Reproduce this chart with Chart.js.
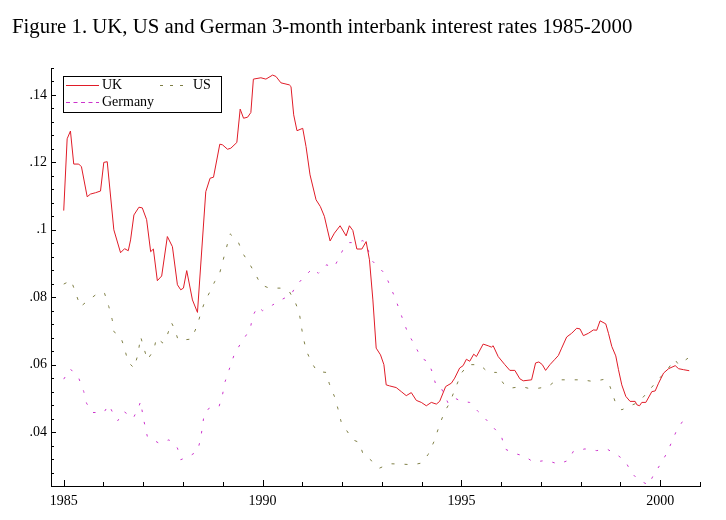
<!DOCTYPE html>
<html>
<head>
<meta charset="utf-8">
<script src="https://cdn.jsdelivr.net/npm/chart.js@4/dist/chart.umd.min.js"></script>
<style>
html,body{margin:0;padding:0;background:#fff;}
#wrap{position:relative;width:726px;height:520px;}
</style>
</head>
<body>
<div id="wrap"><canvas id="c" width="726" height="520"></canvas></div>
<script>
const titleText = "Figure 1. UK, US and German 3-month interbank interest rates 1985-2000";
const seriesNames = ["UK", "US", "Germany"];

const ukYears = [1985.000,1985.086,1985.169,1985.252,1985.378,1985.446,1985.590,1985.673,1985.799,1985.925,
1986.008,1986.094,1986.260,1986.429,1986.530,1986.623,1986.681,1986.765,1986.891,1986.976,
1987.085,1987.186,1987.254,1987.354,1987.463,1987.606,1987.733,1987.859,1987.942,1988.010,
1988.093,1988.237,1988.363,1988.572,1988.680,1988.766,1988.925,1988.993,1989.119,1989.202,
1989.353,1989.437,1989.522,1989.623,1989.706,1989.769,1989.958,1990.084,1990.253,1990.336,
1990.462,1990.672,1990.715,1990.783,1990.866,1991.010,1991.093,1991.194,1991.345,1991.453,
1991.554,1991.622,1991.698,1991.806,1991.950,1992.101,1992.184,1992.270,1992.371,1992.497,
1992.605,1992.688,1992.774,1992.857,1992.966,1993.051,1993.109,1993.193,1993.361,1993.488,
1993.614,1993.740,1993.866,1993.992,1994.118,1994.244,1994.370,1994.453,1994.604,1994.748,
1994.831,1994.956,1995.043,1995.126,1995.209,1995.310,1995.378,1995.547,1995.673,1995.756,
1995.799,1995.925,1996.092,1996.218,1996.344,1996.470,1996.556,1996.765,1996.865,1996.949,
1997.035,1997.118,1997.227,1997.352,1997.438,1997.521,1997.647,1997.773,1997.899,1997.982,
1998.068,1998.194,1998.320,1998.403,1998.487,1998.630,1998.698,1998.782,1998.882,1998.950,
1999.033,1999.134,1999.242,1999.369,1999.412,1999.479,1999.537,1999.638,1999.789,1999.873,
1999.958,2000.084,2000.210,2000.377,2000.462,2000.588,2000.730];
const ukRates = [0.1057,0.1270,0.1293,0.1195,0.1195,0.1187,0.1098,0.1106,0.1110,0.1115,
0.1200,0.1202,0.1000,0.0932,0.0944,0.0938,0.0970,0.1044,0.1067,0.1065,
0.1030,0.0935,0.0943,0.0849,0.0863,0.0980,0.0950,0.0837,0.0822,0.0827,
0.0879,0.0792,0.0755,0.1113,0.1153,0.1156,0.1254,0.1252,0.1239,0.1242,
0.1259,0.1358,0.1331,0.1334,0.1348,0.1447,0.1451,0.1447,0.1459,0.1455,
0.1436,0.1430,0.1425,0.1341,0.1294,0.1301,0.1247,0.1163,0.1089,0.1069,
0.1040,0.1005,0.0967,0.0990,0.1012,0.0982,0.1012,0.0998,0.0943,0.0943,
0.0965,0.0911,0.0792,0.0649,0.0629,0.0600,0.0540,0.0537,0.0532,0.0520,
0.0508,0.0517,0.0494,0.0488,0.0478,0.0488,0.0483,0.0491,0.0535,0.0545,
0.0560,0.0590,0.0597,0.0616,0.0610,0.0631,0.0624,0.0661,0.0656,0.0652,
0.0656,0.0624,0.0600,0.0583,0.0583,0.0558,0.0552,0.0555,0.0605,0.0608,
0.0600,0.0583,0.0600,0.0616,0.0627,0.0649,0.0682,0.0693,0.0708,0.0706,
0.0686,0.0693,0.0703,0.0702,0.0730,0.0721,0.0693,0.0654,0.0626,0.0585,
0.0540,0.0506,0.0491,0.0491,0.0481,0.0478,0.0488,0.0488,0.0520,0.0522,
0.0545,0.0575,0.0588,0.0597,0.0588,0.0585,0.0582];

const usYears = [1985.000,1985.187,1985.295,1985.421,1985.630,1985.882,1986.026,1986.134,1986.220,1986.260,
1986.429,1986.530,1986.613,1986.765,1986.865,1986.933,1987.017,1987.102,1987.269,1987.329,
1987.496,1987.606,1987.707,1987.791,1987.874,1988.068,1988.212,1988.363,1988.446,1988.547,
1988.680,1988.799,1988.925,1989.033,1989.185,1989.386,1989.497,1989.663,1989.832,1989.958,
1990.168,1990.445,1990.672,1990.816,1990.924,1991.010,1991.093,1991.219,1991.370,1991.597,
1991.680,1991.806,1991.892,1991.975,1992.101,1992.270,1992.436,1992.522,1992.731,1992.941,
1993.193,1993.488,1993.783,1993.992,1994.161,1994.312,1994.453,1994.579,1994.705,1994.831,
1994.917,1995.000,1995.169,1995.461,1995.673,1995.882,1996.051,1996.218,1996.513,1996.681,
1996.933,1997.185,1997.395,1997.690,1998.025,1998.320,1998.612,1998.737,1998.864,1999.033,
1999.242,1999.454,1999.664,1999.873,2000.210,2000.362,2000.462,2000.697];
const usRates = [0.0839,0.0850,0.0814,0.0772,0.0792,0.0814,0.0812,0.0772,0.0733,0.0698,
0.0683,0.0649,0.0609,0.0590,0.0629,0.0683,0.0649,0.0614,0.0644,0.0679,
0.0664,0.0688,0.0725,0.0705,0.0674,0.0674,0.0676,0.0718,0.0753,0.0787,
0.0817,0.0847,0.0873,0.0921,0.0988,0.0965,0.0931,0.0901,0.0866,0.0837,
0.0827,0.0827,0.0817,0.0787,0.0753,0.0688,0.0644,0.0609,0.0580,0.0577,
0.0543,0.0506,0.0471,0.0431,0.0407,0.0377,0.0369,0.0336,0.0316,0.0293,
0.0306,0.0305,0.0303,0.0308,0.0333,0.0372,0.0422,0.0461,0.0486,0.0525,
0.0550,0.0575,0.0600,0.0600,0.0577,0.0577,0.0545,0.0530,0.0535,0.0530,
0.0530,0.0535,0.0555,0.0555,0.0555,0.0550,0.0557,0.0535,0.0491,0.0466,
0.0478,0.0488,0.0516,0.0545,0.0590,0.0616,0.0600,0.0619];

const deYears = [1985.000,1985.169,1985.378,1985.504,1985.572,1985.716,1986.008,1986.134,1986.260,1986.361,
1986.512,1986.749,1986.891,1986.933,1987.002,1987.102,1987.395,1987.647,1987.859,1987.942,
1988.151,1988.363,1988.446,1988.529,1988.655,1988.907,1988.993,1989.059,1989.159,1989.285,
1989.454,1989.689,1989.749,1989.875,1990.001,1990.253,1990.462,1990.715,1990.841,1991.050,
1991.262,1991.403,1991.597,1991.806,1991.892,1992.018,1992.184,1992.353,1992.522,1992.605,
1992.731,1992.900,1993.084,1993.210,1993.336,1993.530,1993.656,1993.823,1993.992,1994.161,
1994.261,1994.370,1994.496,1994.665,1994.831,1995.000,1995.209,1995.421,1995.630,1995.840,
1996.008,1996.092,1996.303,1996.596,1996.807,1997.143,1997.438,1997.690,1997.816,1998.108,
1998.403,1998.655,1998.907,1999.116,1999.285,1999.454,1999.706,1999.832,2000.024,2000.168,
2000.294,2000.420,2000.588,2000.710];
const deRates = [0.0557,0.0587,0.0560,0.0520,0.0486,0.0458,0.0458,0.0481,0.0451,0.0434,
0.0461,0.0441,0.0476,0.0491,0.0441,0.0387,0.0367,0.0377,0.0353,0.0318,
0.0328,0.0343,0.0382,0.0451,0.0471,0.0476,0.0511,0.0550,0.0585,0.0629,
0.0664,0.0705,0.0743,0.0772,0.0760,0.0777,0.0792,0.0807,0.0834,0.0861,
0.0886,0.0871,0.0896,0.0890,0.0910,0.0940,0.0962,0.0962,0.0968,0.0960,
0.0911,0.0891,0.0869,0.0832,0.0797,0.0733,0.0693,0.0659,0.0619,0.0609,
0.0580,0.0535,0.0530,0.0486,0.0501,0.0491,0.0488,0.0461,0.0436,0.0409,
0.0387,0.0350,0.0338,0.0328,0.0311,0.0316,0.0305,0.0316,0.0343,0.0350,
0.0345,0.0350,0.0333,0.0315,0.0278,0.0258,0.0243,0.0273,0.0308,0.0338,
0.0372,0.0407,0.0436,0.0452];

const xTickYears = [1985,1986,1987,1988,1989,1990,1991,1992,1993,1994,1995,1996,1997,1998,1999,2000,2001];
const xLabelYears = [1985,1990,1995,2000];
const yLabelValues = [0.04,0.06,0.08,0.10,0.12,0.14];
const xMin = 1984.68, xMax = 2001;
const yMin = 0.024, yMax = 0.148, yMinorStep = 0.004;

const colors = {UK:'#e01c28', US:'#7f7f45', Germany:'#cc33cc'};
const FONT = '"Liberation Serif","Times New Roman",serif';

function pairs(xs, ys){ return xs.map((x,i)=>({x:x, y:ys[i]})); }
function fmtY(v){ return String(+v.toFixed(2)).replace(/^0/, ''); }
function isLabelY(v){ return yLabelValues.some(l => Math.abs(l - v) < 1e-9); }

const yTickValues = [];
for (let i = 0; i <= Math.round((yMax - yMin)/yMinorStep); i++) yTickValues.push(+(yMin + i*yMinorStep).toFixed(4));

const decor = {
  id:'decor',
  afterDraw(chart){
    const ctx = chart.ctx, xs = chart.scales.x, ys = chart.scales.y, a = chart.chartArea;
    ctx.save();
    // title
    ctx.fillStyle = '#000';
    ctx.font = '20.8px ' + FONT;
    ctx.textBaseline = 'alphabetic';
    ctx.textAlign = 'left';
    ctx.fillText(titleText, 12, 33);
    // tick marks (inward)
    ctx.strokeStyle = '#000';
    ctx.lineWidth = 1;
    ctx.beginPath();
    xTickYears.forEach(yr => {
      const px = Math.round(xs.getPixelForValue(yr)) + 0.5;
      const len = (yr % 5 === 0) ? 6 : 4;
      ctx.moveTo(px, a.bottom); ctx.lineTo(px, a.bottom - len);
    });
    yTickValues.forEach(v => {
      const py = Math.round(ys.getPixelForValue(v)) + 0.5;
      const len = isLabelY(v) ? 5 : 3;
      ctx.moveTo(a.left, py); ctx.lineTo(a.left + len, py);
    });
    ctx.stroke();
    // legend
    const bx = 63.5, by = 76.5, bw = 158, bh = 36;
    ctx.fillStyle = '#fff';
    ctx.fillRect(bx, by, bw, bh);
    ctx.strokeStyle = '#000';
    ctx.strokeRect(bx, by, bw, bh);
    const items = [
      {name:seriesNames[0], x1:66, x2:99, tx:102, y:85.5, dash:[]},
      {name:seriesNames[1], x1:160, x2:190, tx:193, y:85.5, dash:[3,7]},
      {name:seriesNames[2], x1:66, x2:99, tx:102, y:102.5, dash:[4,3.5]}
    ];
    ctx.font = '14px ' + FONT;
    ctx.textBaseline = 'middle';
    items.forEach(it => {
      ctx.strokeStyle = colors[it.name];
      ctx.setLineDash(it.dash);
      ctx.beginPath(); ctx.moveTo(it.x1, it.y); ctx.lineTo(it.x2, it.y); ctx.stroke();
      ctx.setLineDash([]);
      ctx.fillStyle = '#000';
      ctx.fillText(it.name, it.tx, it.y);
    });
    ctx.restore();
  }
};

new Chart(document.getElementById('c'), {
  type:'line',
  data:{
    datasets:[
      {label:seriesNames[0], data:pairs(ukYears, ukRates), borderColor:colors.UK, borderWidth:1, pointRadius:0, tension:0, fill:false},
      {label:seriesNames[1], data:pairs(usYears, usRates), borderColor:colors.US, borderWidth:1, borderDash:[3,10], pointRadius:0, tension:0, fill:false},
      {label:seriesNames[2], data:pairs(deYears, deRates), borderColor:colors.Germany, borderWidth:1, borderDash:[2.5,10], pointRadius:0, tension:0, fill:false}
    ]
  },
  options:{
    responsive:false,
    animation:false,
    devicePixelRatio:1,
    layout:{padding:{left:0, right:26, top:68, bottom:0}},
    plugins:{legend:{display:false}, title:{display:false}, tooltip:{enabled:false}},
    scales:{
      x:{
        type:'linear', min:xMin, max:xMax,
        grid:{display:false, drawTicks:false},
        border:{display:true, color:'#000', width:1},
        afterBuildTicks(s){ s.ticks = xTickYears.map(v => ({value:v})); },
        afterFit(s){ s.height = 34; },
        ticks:{
          autoSkip:false, maxRotation:0, padding:7, color:'#000',
          font:{family:FONT, size:14},
          callback:(v) => xLabelYears.includes(v) ? String(v) : ''
        }
      },
      y:{
        type:'linear', min:yMin, max:yMax,
        grid:{display:false, drawTicks:false},
        border:{display:true, color:'#000', width:1},
        afterBuildTicks(s){ s.ticks = yTickValues.map(v => ({value:v})); },
        afterFit(s){ s.width = 51; },
        ticks:{
          autoSkip:false, padding:4, color:'#000',
          font:{family:FONT, size:14},
          callback:(v) => isLabelY(v) ? fmtY(v) : ''
        }
      }
    }
  },
  plugins:[decor]
});
</script>
</body>
</html>
